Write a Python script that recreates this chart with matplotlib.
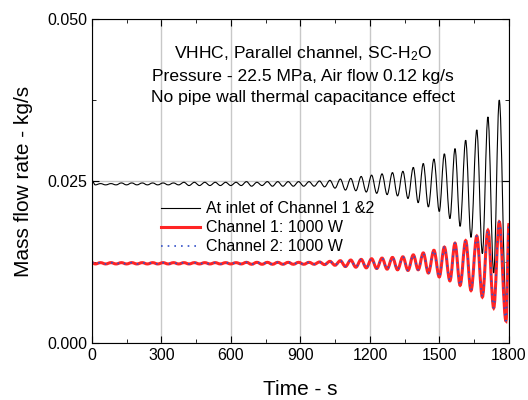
import matplotlib
matplotlib.use('Agg')
import matplotlib.pyplot as plt
from matplotlib.ticker import MultipleLocator
from matplotlib.path import Path
from matplotlib.patches import PathPatch
from matplotlib.lines import Line2D

plt.rcParams['font.family'] = ['Liberation Sans', 'DejaVu Sans']
plt.rcParams['mathtext.default'] = 'regular'

# =========================
# Data: peaks / troughs of the oscillation
# =========================
time_s = [0, 14, 37, 59, 82, 104, 127, 149, 172, 194, 217, 239, 262, 284, 307, 329,
          352, 374, 397, 419, 442, 464, 487, 509, 532, 554, 577, 599, 622, 644, 667, 689,
          712, 734, 757, 779, 802, 824, 847, 869, 892, 914, 937, 959, 982, 1004, 1027, 1049,
          1072, 1094, 1117, 1139, 1162, 1184, 1207, 1229, 1252, 1274, 1297, 1319, 1342, 1364,
          1387, 1408, 1430, 1452, 1476, 1499, 1521, 1545, 1567, 1589, 1613, 1636, 1661, 1685,
          1709, 1734, 1758, 1787, 1800]

inlet_flow = [0.0251, 0.0244, 0.0246, 0.0244, 0.0246, 0.0244, 0.0247, 0.0244, 0.0247, 0.0244,
              0.0247, 0.0244, 0.0247, 0.0244, 0.0247, 0.0244, 0.0247, 0.0244, 0.0248, 0.0243,
              0.0248, 0.0243, 0.0248, 0.0243, 0.0248, 0.0243, 0.0248, 0.0243, 0.0248, 0.0243,
              0.0249, 0.0242, 0.0248, 0.0243, 0.0249, 0.0242, 0.0249, 0.0242, 0.0249, 0.0242,
              0.0249, 0.0242, 0.0249, 0.0242, 0.0250, 0.0241, 0.0251, 0.0239, 0.0253, 0.0236,
              0.0254, 0.0235, 0.0257, 0.0233, 0.0259, 0.0231, 0.0261, 0.0229, 0.0263, 0.0227,
              0.0265, 0.0223, 0.0271, 0.02165, 0.0277, 0.0210, 0.0284, 0.0203, 0.0292, 0.0192,
              0.0300, 0.0180, 0.0313, 0.0163, 0.0329, 0.0138, 0.0349, 0.0108, 0.0375, 0.0061,
              0.0130]

ch1_flow = [0.0124, 0.0122, 0.0124, 0.0122, 0.0124, 0.0122, 0.0124, 0.0122, 0.0124, 0.0122,
            0.0124, 0.0122, 0.0124, 0.0122, 0.0124, 0.0122, 0.0124, 0.0122, 0.0124, 0.0122,
            0.0124, 0.0122, 0.0124, 0.0122, 0.0124, 0.0122, 0.0124, 0.0122, 0.0124, 0.0122,
            0.01245, 0.01215, 0.01245, 0.01215, 0.01245, 0.01215, 0.01245, 0.01215, 0.01245, 0.01215,
            0.01245, 0.01215, 0.01245, 0.01215, 0.0125, 0.0121, 0.0126, 0.0120, 0.0127, 0.0118,
            0.0128, 0.0117, 0.0129, 0.0116, 0.0130, 0.0115, 0.0131, 0.0114, 0.0132, 0.0113,
            0.0133, 0.0112, 0.0136, 0.0113, 0.0139, 0.0108, 0.0143, 0.0102, 0.0148, 0.0096,
            0.0154, 0.0089, 0.0158, 0.0081, 0.0165, 0.0071, 0.0174, 0.0054, 0.0187, 0.0034,
            0.0185]

# channel 2 lies on top of channel 1 in the picture
ch2_flow = list(ch1_flow)


def smooth_curve(t, v):
    # bezier segments between extrema, flat tangents at each peak / trough
    verts = [(t[0], v[0])]
    codes = [Path.MOVETO]
    for i in range(1, len(t)):
        dt = t[i] - t[i - 1]
        verts += [(t[i - 1] + 0.36 * dt, v[i - 1]), (t[i] - 0.36 * dt, v[i]), (t[i], v[i])]
        codes += [Path.CURVE4] * 3
    return Path(verts, codes)


fig = plt.figure(figsize=(5.28, 4), dpi=100)
ax = fig.add_axes([0.1742, 0.1425, 0.7898, 0.81])

styles = [
    (inlet_flow, dict(color='black', lw=0.8, ls='-'), 'At inlet of Channel 1 &2'),
    (ch1_flow, dict(color='#ff2424', lw=2.2, ls='-'), 'Channel 1: 1000 W'),
    (ch2_flow, dict(color='#3350c8', lw=1.2, ls=(0, (1, 3))), 'Channel 2: 1000 W'),
]
handles = []
for values, st, name in styles:
    ax.add_patch(PathPatch(smooth_curve(time_s, values), fill=False, edgecolor=st['color'],
                           lw=st['lw'], ls=st['ls'], zorder=2))
    handles.append(Line2D([], [], color=st['color'], lw=st['lw'], ls=st['ls'], label=name))

ax.set_xlim(0, 1800)
ax.set_ylim(0, 0.05)
ax.xaxis.set_major_locator(MultipleLocator(300))
ax.xaxis.set_minor_locator(MultipleLocator(150))
ax.yaxis.set_major_locator(MultipleLocator(0.025))
ax.yaxis.set_minor_locator(MultipleLocator(0.0125))
ax.yaxis.set_major_formatter(plt.FormatStrFormatter('%.3f'))
ax.tick_params(which='both', direction='in', top=True, right=True, labelsize=11.5)
ax.tick_params(which='major', length=5)
ax.tick_params(which='minor', length=3)
ax.grid(True, which='major', color='#c8c8c8', lw=1)
ax.set_axisbelow(True)

ax.set_xlabel('Time - s', fontsize=15, labelpad=12)
ax.set_ylabel('Mass flow rate - kg/s', fontsize=15, labelpad=10)

ax.text(0.506, 0.829, 'VHHC, Parallel channel, SC-H$_2$O\nPressure - 22.5 MPa, Air flow 0.12 kg/s\n'
        'No pipe wall thermal capacitance effect',
        transform=ax.transAxes, ha='center', va='center', fontsize=12.6, linespacing=1.5)

ax.legend(handles=handles, loc='upper left', bbox_to_anchor=(0.149, 0.457), frameon=False,
          fontsize=11.5, handlelength=2.5, handletextpad=0.35, labelspacing=0.25, borderaxespad=0)

plt.savefig('out.png', dpi=100)
